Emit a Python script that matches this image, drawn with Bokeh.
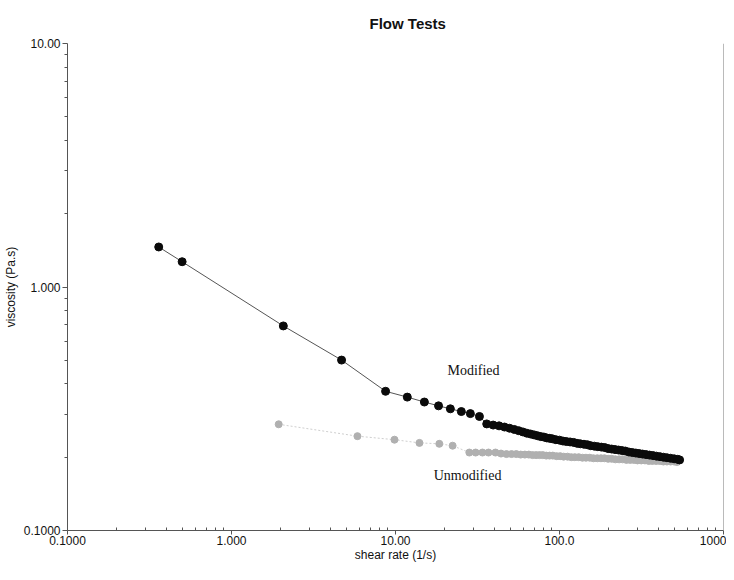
from bokeh.plotting import figure
from bokeh.models import FixedTicker, Label, Span
from bokeh.embed import file_html
from bokeh.resources import INLINE

# ---- data ----
mod_rate = [0.36, 0.50, 2.07, 4.69, 8.7, 11.8, 15.0, 18.3, 21.6, 25.2, 28.6, 32.5,
            36.0, 39.4, 42.8, 46.2, 49.6, 53.0, 56.4, 59.8, 63.2, 66.6, 70.0, 73.4,
            76.8, 80.2, 83.6, 87.0, 90.4, 95, 100, 105, 110, 116, 122, 128, 134, 141,
            148, 155, 163, 171, 180, 189, 198, 208, 218, 229, 240, 252, 265, 278, 292,
            306, 321, 337, 354, 372, 390, 410, 430, 452, 475, 500, 525, 540]
mod_visc = [1.46, 1.27, 0.692, 0.501, 0.373, 0.353, 0.337, 0.325, 0.316, 0.308, 0.302, 0.294,
            0.274, 0.271, 0.269, 0.266, 0.263, 0.260, 0.257, 0.254, 0.251, 0.249, 0.247, 0.245,
            0.243, 0.242, 0.240, 0.239, 0.238, 0.236, 0.235, 0.233, 0.232, 0.231, 0.230, 0.228,
            0.227, 0.226, 0.225, 0.223, 0.222, 0.221, 0.220, 0.219, 0.217, 0.216, 0.215, 0.214,
            0.213, 0.212, 0.210, 0.209, 0.208, 0.207, 0.206, 0.205, 0.204, 0.203, 0.202, 0.201,
            0.200, 0.199, 0.198, 0.197, 0.196, 0.195]

unmod_rate = [1.94, 5.86, 9.86, 14.0, 18.5, 22.3, 28.2, 30.8, 33.9, 36.9, 40.7,
              44, 47.5, 51, 54.5, 58, 61.5, 65, 68.5, 72, 75.5, 79, 83, 87, 91, 96, 101,
              106, 112, 118, 124, 131, 138, 145, 153, 161, 170, 179, 188, 198, 208, 219,
              231, 243, 256, 270, 284, 299, 315, 332, 350, 368, 388, 408, 430, 452, 476,
              500, 520]
unmod_visc = [0.273, 0.244, 0.236, 0.229, 0.227, 0.223, 0.209, 0.209, 0.209, 0.209, 0.209,
              0.207, 0.206, 0.206, 0.206, 0.205, 0.205, 0.205, 0.204, 0.204, 0.204, 0.204,
              0.203, 0.203, 0.203, 0.202, 0.202, 0.201, 0.201, 0.200, 0.200, 0.200, 0.199,
              0.199, 0.199, 0.198, 0.198, 0.198, 0.198, 0.197, 0.197, 0.196, 0.196, 0.196,
              0.195, 0.195, 0.195, 0.194, 0.194, 0.194, 0.193, 0.193, 0.193, 0.193, 0.192,
              0.192, 0.192, 0.192, 0.191]

x_major = [0.1, 1, 10, 100, 1000]
x_labels = ["0.1000", "1.000", "10.00", "100.0", "1000"]
y_major = [0.1, 1, 10]
y_labels = ["0.1000", "1.000", "10.00"]
minor_mult = [2, 3, 4, 5, 6, 7, 8, 9]

FONT = "Liberation Sans"
SERIF = "Liberation Serif"
AXIS_COLOR = "#555555"

p = figure(frame_width=656, frame_height=487, x_axis_type="log", y_axis_type="log",
           x_range=(0.1, 1000), y_range=(0.1, 10),
           output_backend="svg", toolbar_location=None,
           min_border_left=59, min_border_right=3, min_border_top=36, min_border_bottom=20,
           title="Flow Tests")
p.outline_line_color = None
p.background_fill_color = "white"
p.border_fill_color = "white"
p.xgrid.visible = False
p.ygrid.visible = False

p.title.text_font = FONT
p.title.text_font_size = "15px"
p.title.text_font_style = "bold"
p.title.align = "left"
p.title.offset = 302
p.title.standoff = 24
p.title.text_color = "#111111"

x_minor = [m * d for d in [0.1, 1, 10, 100] for m in minor_mult]
y_minor = [m * d for d in [0.1, 1] for m in minor_mult]

xa = p.xaxis[0]
xa.ticker = FixedTicker(ticks=x_major, minor_ticks=x_minor)
xa.major_label_overrides = {(0.1 if t == 0.1 else int(t)): l for t, l in zip(x_major, x_labels)}
xa.axis_label = "shear rate (1/s)"
ya = p.yaxis[0]
ya.ticker = FixedTicker(ticks=y_major, minor_ticks=y_minor)
ya.major_label_overrides = {(0.1 if t == 0.1 else int(t)): l for t, l in zip(y_major, y_labels)}
ya.axis_label = "viscosity (Pa.s)"

for ax in (xa, ya):
    ax.axis_line_color = AXIS_COLOR
    ax.major_tick_line_color = AXIS_COLOR
    ax.minor_tick_line_color = AXIS_COLOR
    ax.major_label_text_font = FONT
    ax.major_label_text_font_size = "12px"
    ax.major_label_text_color = "#111111"
    ax.axis_label_text_font = FONT
    ax.axis_label_text_font_size = "12px"
    ax.axis_label_text_font_style = "normal"
    ax.axis_label_text_color = "#111111"
    ax.major_label_standoff = 1
    ax.axis_label_standoff = 0

ya.major_label_standoff = 2
ya.axis_label_standoff = 3

xa.major_tick_in = 0
xa.major_tick_out = 4
xa.minor_tick_in = 3
xa.minor_tick_out = 0
ya.major_tick_in = 0
ya.major_tick_out = 5
ya.minor_tick_in = 0
ya.minor_tick_out = 3

p.add_layout(Span(location=1000, dimension="height", line_color="#777777", line_width=1))

# unmodified (grey)
p.line(unmod_rate, unmod_visc, line_color="#cfcfcf", line_width=1, line_dash="2 2")
p.scatter(unmod_rate, unmod_visc, size=7, fill_color="#b0b0b0", line_color="#b0b0b0")
# modified (black)
p.line(mod_rate, mod_visc, line_color="#555555", line_width=1)
p.scatter(mod_rate, mod_visc, size=8, fill_color="#0a0a0a", line_color="#0a0a0a")

p.add_layout(Label(x=29.9, y=0.453, text="Modified", text_font=SERIF,
                   text_font_size="14px", text_align="center", text_baseline="middle",
                   text_color="#111111"))
p.add_layout(Label(x=27.5, y=0.1675, text="Unmodified", text_font=SERIF,
                   text_font_size="14px", text_align="center", text_baseline="middle",
                   text_color="#111111"))

open("out.html", "w").write(file_html(p, INLINE))
